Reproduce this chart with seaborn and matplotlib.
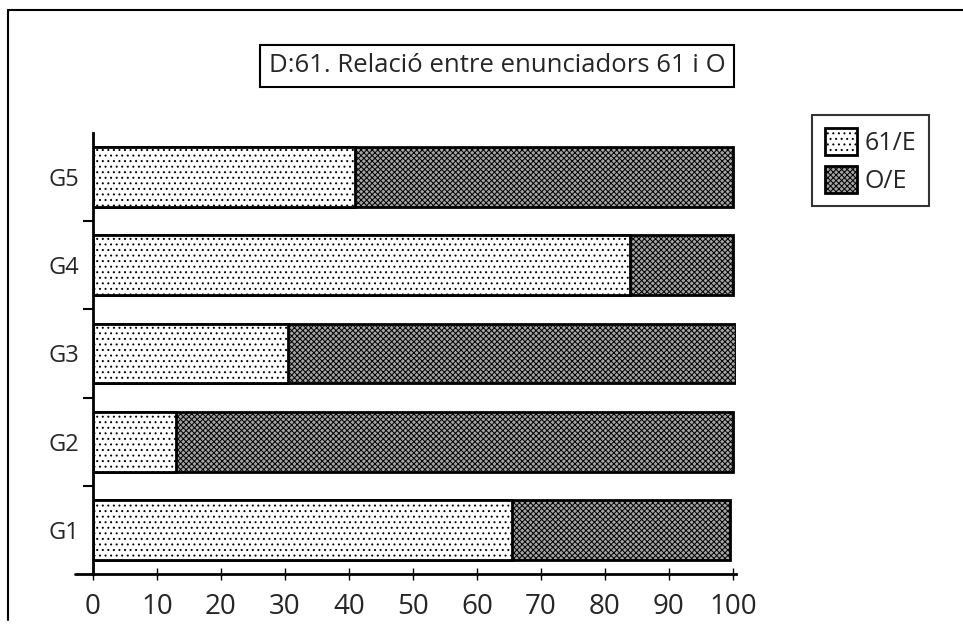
import matplotlib
matplotlib.use("Agg")
import matplotlib.pyplot as plt
import seaborn as sns
import pandas as pd
from matplotlib.patches import Patch
from matplotlib.lines import Line2D

groups = ["G5", "G4", "G3", "G2", "G1"]
val_61E = [41, 84, 30.5, 13, 65.5]
val_OE = [59, 16, 70, 87, 34]
series_labels = ["61/E", "O/E"]
x_ticks = [0, 10, 20, 30, 40, 50, 60, 70, 80, 90, 100]
title = "D:61. Relació entre enunciadors 61 i O"

sns.set_theme(style="white")
plt.rcParams["font.family"] = ["Open Sans", "DejaVu Sans"]
plt.rcParams["hatch.linewidth"] = 0.7

df = pd.DataFrame({"group": groups, "a": val_61E, "b": val_OE})
df["total"] = df["a"] + df["b"]

fig = plt.figure(figsize=(9.63, 6.35), dpi=100)
ax = fig.add_axes([93/963, 1-574/635, (736-93)/963, (574-133)/635])

light_kw = dict(facecolor="white", edgecolor="black", hatch="...", linewidth=2)
dark_kw = dict(facecolor="#a4a4a4", edgecolor="black", hatch="xxxxxx", linewidth=2)

sns.barplot(data=df, y="group", x="total", order=groups, orient="h",
            width=0.68, ax=ax, **dark_kw)
sns.barplot(data=df, y="group", x="a", order=groups, orient="h",
            width=0.68, ax=ax, **light_kw)

ax.set_xlim(0, 100.5)
ax.set_ylim(4.5, -0.5)
ax.set_xlabel("")
ax.set_ylabel("")
ax.set_xticks(x_ticks)
ax.set_xticklabels([str(t) for t in x_ticks], fontsize=20)
ax.set_yticks(range(len(groups)))
ax.set_yticklabels(groups, fontsize=17)
ax.set_yticks([0.5, 1.5, 2.5, 3.5], minor=True)
ax.tick_params(axis="y", which="major", length=0, pad=10)
ax.tick_params(axis="y", which="minor", length=7, width=1.5, direction="out", left=True, color="black")
ax.tick_params(axis="x", which="major", length=8, width=1, direction="inout", bottom=True, color="black", pad=10)

for s in ["top", "right"]:
    ax.spines[s].set_visible(False)
for s in ["left", "bottom"]:
    ax.spines[s].set_color("black")
    ax.spines[s].set_linewidth(2)

# axis line extends slightly left of zero, as in the reference
ax.add_line(Line2D([-0.028, 0], [0, 0], transform=ax.transAxes, color="black",
                   linewidth=2, clip_on=False))

fig.text(497/963, 1-66/635, title, ha="center", va="center", fontsize=18.5,
         bbox=dict(boxstyle="square,pad=0.35", facecolor="white", edgecolor="black", linewidth=1.5))

handles = [Patch(label=series_labels[0], **light_kw),
           Patch(label=series_labels[1], **dark_kw)]
leg = fig.legend(handles=handles, loc="upper left", bbox_to_anchor=(812/963, 1-115/635),
                 fontsize=18, frameon=True, fancybox=False, handlelength=1.3, handleheight=1.3,
                 handletextpad=0.3, borderpad=0.5, labelspacing=0.4, borderaxespad=0)
leg.get_frame().set_edgecolor("black")
leg.get_frame().set_linewidth(1.5)

fig.add_artist(Line2D([8/963, 8/963], [1-10/635, 1-620/635], color="black", linewidth=1.5))
fig.add_artist(Line2D([8/963, 1.0], [1-10/635, 1-10/635], color="black", linewidth=1.5))

fig.savefig("out.png", dpi=100)
